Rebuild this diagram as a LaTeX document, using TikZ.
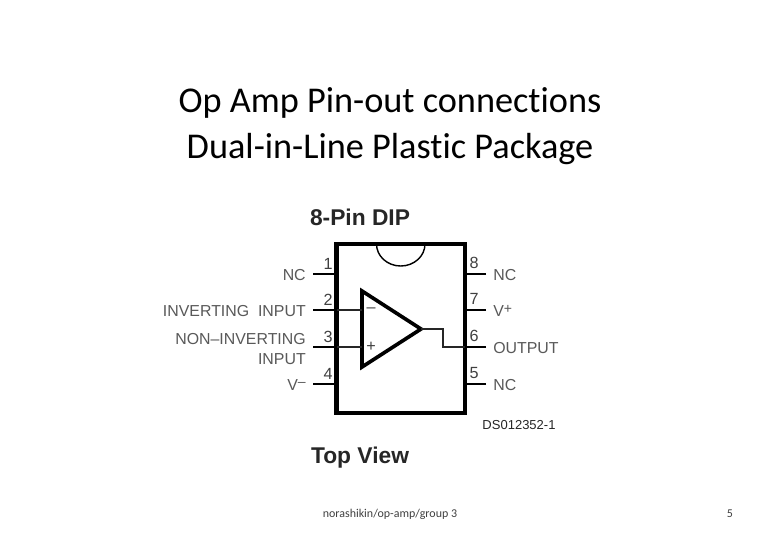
\documentclass[tikz,border=0pt]{standalone}
\usepackage{fontspec}
\setmainfont[Ligatures=NoCommon]{Carlito}
\newfontfamily\pinfont{Liberation Sans}
\usetikzlibrary{positioning}
\tikzset{
    wire/.style={black!85,line width=1pt},
    thickwire/.style={black,line width=1.2pt},
    pinname/.style={inner sep=0pt,font=\pinfont\fontsize{11.3}{12}\selectfont,text=black!65},
    pinnum/.style={inner sep=0pt,font=\pinfont\fontsize{11.5}{12}\selectfont,text=black!75},
    heading/.style={inner sep=0pt,font=\pinfont\bfseries\fontsize{16.2}{16}\selectfont,text=black!85},
    title/.style={inner sep=0pt,font=\fontsize{25.8}{32.6}\selectfont,align=center}
}
\newcommand{\raisedsign}[1]{\raisebox{0.45ex}{\fontsize{10}{10}\selectfont #1}}
\begin{document}
\begin{tikzpicture}[x=0.025cm,y=-0.025cm]
    \useasboundingbox (0,0) rectangle (780,540);
    \fill[white] (0,0) rectangle (780,540);
    % title
    \node[title] (title) at (390,126) {Op Amp Pin-out connections\\Dual-in-Line Plastic Package};
    \node[heading] (dip) at (360,217) {8-Pin DIP};
    \node[heading] (view) at (360,458) {Top View};
    % package
    \coordinate (tl) at (336.5,244);
    \coordinate (br) at (465,413);
    \draw[black,line width=3pt] (tl) rectangle (br);
    \coordinate (n1) at (376.5,244);
    \draw[black,line width=1pt] (n1) arc[start angle=180,end angle=0,x radius=24.25,y radius=22];
    % left pins
    \foreach \n/\y/\ly/\txt in {1/274/275/NC,2/310/311/INVERTING\ \ INPUT,3/347/339/NON–INVERTING,4/384/385/V\raisedsign{–}}{
        \coordinate (p\n) at (313,\y);
        \coordinate (q\n) at (336.5,\y);
        \node[pinname,anchor=east] (l\n) at (306,\ly) {\txt};
        \node[pinnum] (d\n) at (328,\y-10) {\n};
    }
    \node[pinname,anchor=east] (l3b) at (306,359) {INPUT};
    % right pins
    \foreach \n/\y/\txt in {8/275/NC,7/311/V\raisedsign{+},6/348/OUTPUT,5/385/NC}{
        \coordinate (p\n) at (486,\y-1);
        \coordinate (q\n) at (465,\y-1);
        \node[pinname,anchor=west] (l\n) at (493,\y) {\txt};
        \node[pinnum] (d\n) at (474,\y-12) {\n};
    }
    \foreach \n in {1,2,3,4,5,6,7,8}{
        \draw[thickwire] (p\n) -- (q\n);
    }
    % op amp
    \coordinate (a) at (362,291);
    \coordinate (b) at (362,367);
    \coordinate (tip) at (421,329);
    \draw[black,line width=2.6pt,line join=miter] (a) -- (tip) -- (b) -- cycle;
    \coordinate (in1) at (362,310);
    \coordinate (in2) at (362,347);
    \draw[wire] (q2) -- (in1);
    \draw[wire] (q3) -- (in2);
    \node[pinnum] (minus) at (371,310) {–};
    \node[pinnum] (plus) at (371,347) {+};
    \coordinate (o1) at (443,329);
    \coordinate (o2) at (443,347);
    \draw[wire] (tip) -- (o1) -- (o2) -- (q6);
    \node[inner sep=0pt,font=\pinfont\fontsize{9.25}{10}\selectfont,text=black!85] (code) at (519,425) {DS012352-1};
    % footer
    \node[inner sep=0pt,font=\fontsize{8.5}{10}\selectfont,text=black!75] (foot) at (390,514) {norashikin/op-amp/group 3};
    \node[inner sep=0pt,font=\fontsize{8.5}{10}\selectfont,text=black!75] (num) at (730,514) {5};
\end{tikzpicture}
\end{document}
